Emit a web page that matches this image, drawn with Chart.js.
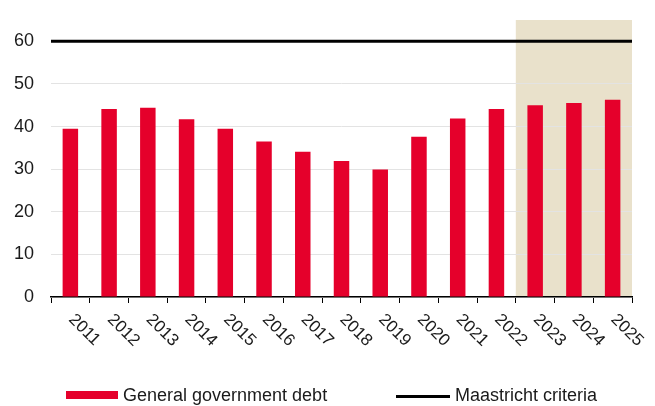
<!DOCTYPE html>
<html><head><meta charset="utf-8">
<script src="https://cdn.jsdelivr.net/npm/chart.js@4"></script>
<style>
html,body{margin:0;padding:0;background:#fff;}
#wrap{position:relative;width:655px;height:406px;overflow:hidden;}
canvas{position:absolute;left:0;top:0;}
.lt{position:absolute;font:18px "Liberation Sans",Arial,sans-serif;color:#1a1a1a;white-space:nowrap;line-height:18px;}
.lb{position:absolute;}
</style></head><body>
<div id="wrap">
<canvas id="c" width="655" height="406"></canvas>
<div class="lb" style="left:66px;top:391px;width:52px;height:8px;background:#e5002b"></div>
<div class="lt" id="l1" style="left:123px;top:385.5px"></div>
<div class="lb" style="left:396px;top:394.5px;width:54px;height:3px;background:#000"></div>
<div class="lt" id="l2" style="left:455px;top:385.5px"></div>
</div>
<script>
const years = ['2011','2012','2013','2014','2015','2016','2017','2018','2019','2020','2021','2022','2023','2024','2025'];
const debt = [39.5,44.1,44.4,41.7,39.5,36.5,34.1,31.9,29.9,37.6,41.9,44.1,45.0,45.5,46.3];
const maastrichtLevel = 60;
const forecastYears = ['2023','2024','2025'];
const yTicks = [0,10,20,30,40,50,60];
const yMax = 65;
const seriesNames = ['General government debt','Maastricht criteria'];

document.getElementById('l1').textContent = seriesNames[0];
document.getElementById('l2').textContent = seriesNames[1];

const FONT = '"Liberation Sans", Arial, sans-serif';

const shadePlugin = {
  id: 'shade',
  beforeDraw(chart) {
    const xs = chart.scales.x, ca = chart.chartArea, ctx = chart.ctx;
    const i0 = years.indexOf(forecastYears[0]);
    const i1 = years.indexOf(forecastYears[forecastYears.length - 1]);
    const half = (xs.getPixelForValue(1) - xs.getPixelForValue(0)) / 2;
    const l = xs.getPixelForValue(i0) - half, r = xs.getPixelForValue(i1) + half;
    ctx.save();
    ctx.fillStyle = '#e9e1cb';
    ctx.fillRect(l, ca.top, r - l, ca.bottom - ca.top);
    ctx.restore();
  }
};

const xLabelPlugin = {
  id: 'xlabels',
  afterDraw(chart) {
    const xs = chart.scales.x, ctx = chart.ctx;
    ctx.save();
    ctx.font = '17px ' + FONT;
    ctx.fillStyle = '#1a1a1a';
    ctx.textAlign = 'left';
    ctx.textBaseline = 'middle';
    years.forEach((y, i) => {
      const cx = xs.getPixelForValue(i);
      ctx.save();
      ctx.translate(cx + 1, chart.chartArea.bottom + 20);
      ctx.rotate(Math.PI / 4);
      ctx.fillText(y, 0, 0);
      ctx.restore();
    });
    ctx.restore();
  }
};

new Chart(document.getElementById('c'), {
  type: 'bar',
  data: {
    labels: years,
    datasets: [
      {
        type: 'line',
        label: seriesNames[1],
        xAxisID: 'xLine',
        data: [{x: -0.5, y: maastrichtLevel}, {x: years.length - 0.5, y: maastrichtLevel}],
        borderColor: '#000',
        borderWidth: 3,
        pointRadius: 0,
        fill: false,
        order: 1
      },
      {
        label: seriesNames[0],
        data: debt,
        backgroundColor: '#e5002b',
        borderWidth: 0,
        barPercentage: 0.4,
        categoryPercentage: 1,
        grouped: false,
        order: 2
      }
    ]
  },
  plugins: [shadePlugin, xLabelPlugin],
  options: {
    responsive: false,
    animation: false,
    layout: {padding: {top: 20, right: 23, left: 0, bottom: 0}},
    plugins: {legend: {display: false}, tooltip: {enabled: false}},
    scales: {
      x: {
        type: 'category',
        offset: true,
        grid: {display: true, drawOnChartArea: false, drawTicks: true, tickLength: 6, color: '#000', lineWidth: 1, offset: true},
        border: {display: true, color: '#000', width: 1.5},
        ticks: {display: false},
        afterFit(s) { s.height = 109; s.paddingLeft = 0; s.paddingRight = 0; }
      },
      xLine: {
        type: 'linear',
        display: false,
        offset: false,
        grid: {offset: false},
        min: -0.5,
        max: years.length - 0.5
      },
      y: {
        min: 0,
        max: yMax,
        afterBuildTicks(s) { s.ticks = yTicks.map(v => ({value: v})); },
        grid: {color: '#e3e3e3', lineWidth: 1, drawTicks: false},
        border: {display: false},
        ticks: {font: {family: FONT, size: 18}, color: '#1a1a1a', padding: 17},
        afterFit(s) { s.width = 51; s.paddingTop = 0; s.paddingBottom = 0; }
      }
    }
  }
});
</script>
</body></html>
